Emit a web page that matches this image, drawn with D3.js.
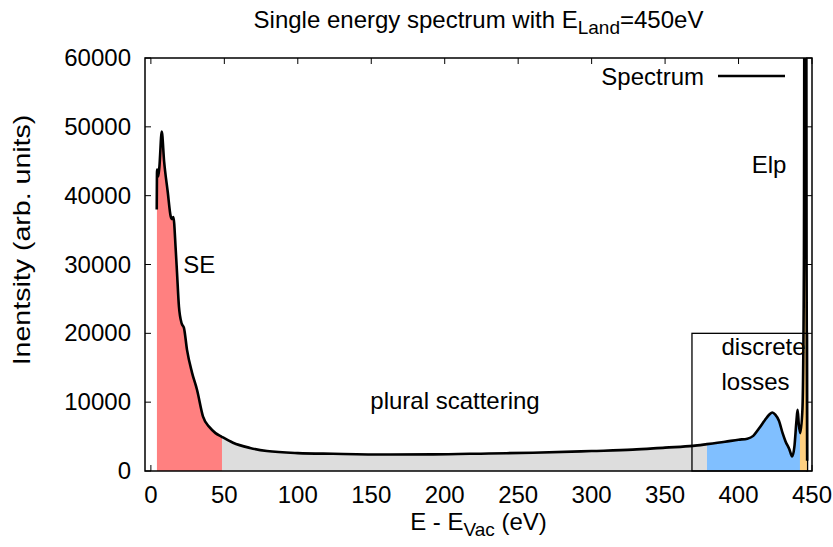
<!DOCTYPE html>
<html>
  <head>
    <meta charset="utf-8">
    <title>single energy spectrum</title>
    <script type="text/javascript" src="https://d3js.org/d3.v7.min.js"></script>
    <style type="text/css">
      body { margin: 0; background: #fff; }
      text { font-family: "Liberation Sans", Arial, Helvetica, sans-serif; fill: #000; }
    </style>
  </head>
  <body>
    <script type="text/javascript">
	// spectrum (eV, counts)
	var energy = [4.0, 4.2, 5.0, 5.8, 7.4, 9.0, 11.5, 13.5, 14.5, 15.3, 16.9, 17.8, 19.1, 21.0, 22.5,
		24.6, 28.0, 31.4, 35.5, 40.2, 44.0, 48.0, 55.9, 67.5, 79, 100, 124, 160, 192, 230, 260,
		300, 328, 350, 369, 378.5, 390.8, 400, 406, 410, 414, 418, 421, 423, 425, 427.5, 430,
		432, 434.5, 436.5, 438, 439.5, 440.2, 441, 442, 443.5, 444.5, 445.5, 446.3, 446.7];
	var intensity = [38000, 43800, 42800, 44200, 49300, 45000, 40500, 37000, 36600, 36900, 32200,
		28800, 23900, 21400, 20800, 17600, 14300, 11800, 7900, 6300, 5500, 5000, 4100, 3350, 2900,
		2600, 2500, 2400, 2420, 2550, 2650, 2900, 3100, 3400, 3650, 3900, 4250, 4550, 4700, 5100,
		6200, 7400, 8200, 8500, 8200, 7300, 5500, 4300, 3200, 2100, 3500, 7500, 8900, 6800, 5500,
		9000, 30000, 200000, 30000, 1500];

	var xTicks = [0, 50, 100, 150, 200, 250, 300, 350, 400, 450];
	var yTicks = [0, 10000, 20000, 30000, 40000, 50000, 60000];

	// shaded parts under the curve
	var regionStart = [4.0, 48.4, 378.5, 441.8];
	var regionEnd = [48.4, 378.5, 441.8, 446.7];
	var regionColor = ["#ff8080", "#dddddd", "#80bfff", "#ffd080"];

	// outlined box round the discrete losses
	var boxX = [368.3, 447];
	var boxY = [0, 20000];

	var labels = ["SE", "plural scattering", "discrete", "losses", "Elp"];
	var labelX = [22, 207, 388.4, 388.4, 409];
	var labelY = [28800, 9000, 16850, 11770, 43300];
	var labelAnchor = ["start", "middle", "start", "start", "start"];

	var w = 833, h = 547;
	var pL = 145, pR = 812, pT = 58, pB = 471;

	var x = d3.scaleLinear().domain([-4, 450]).range([pL, pR]);
	var y = d3.scaleLinear().domain([0, 60000]).range([pB, pT]);

	var pts = energy.map(function(e, i) { return [e, intensity[i]]; });

	var svg = d3.select("body")
		.append("svg")
		.attr("width", w)
		.attr("height", h);

	var defs = svg.append("defs");
	defs.append("clipPath").attr("id", "plotclip")
		.append("rect")
		.attr("x", pL).attr("y", pT)
		.attr("width", pR - pL).attr("height", pB - pT);
	regionStart.forEach(function(s, i) {
		defs.append("clipPath").attr("id", "reg" + i)
			.append("rect")
			.attr("x", x(s)).attr("y", pT)
			.attr("width", x(regionEnd[i]) - x(s))
			.attr("height", pB - pT);
	});

	// ticks (inward, mirrored) go under the fills
	var tl = 6;
	var ticks = svg.append("g").attr("stroke", "#000").attr("stroke-width", 1);
	ticks.selectAll("line.xb").data(xTicks).enter().append("line")
		.attr("x1", function(d) { return x(d); }).attr("x2", function(d) { return x(d); })
		.attr("y1", pB).attr("y2", pB - tl);
	ticks.selectAll("line.xt").data(xTicks).enter().append("line")
		.attr("x1", function(d) { return x(d); }).attr("x2", function(d) { return x(d); })
		.attr("y1", pT).attr("y2", pT + tl);
	ticks.selectAll("line.yl").data(yTicks).enter().append("line")
		.attr("x1", pL).attr("x2", pL + tl)
		.attr("y1", function(d) { return y(d); }).attr("y2", function(d) { return y(d); });
	ticks.selectAll("line.yr").data(yTicks).enter().append("line")
		.attr("x1", pR).attr("x2", pR - tl)
		.attr("y1", function(d) { return y(d); }).attr("y2", function(d) { return y(d); });

	var curve = d3.curveMonotoneX;
	var area = d3.area()
		.x(function(d) { return x(d[0]); })
		.y0(y(0))
		.y1(function(d) { return y(d[1]); })
		.curve(curve);
	var line = d3.line()
		.x(function(d) { return x(d[0]); })
		.y(function(d) { return y(d[1]); })
		.curve(curve);

	regionColor.forEach(function(c, i) {
		svg.append("path")
			.datum(pts)
			.attr("clip-path", "url(#reg" + i + ")")
			.attr("fill", c)
			.attr("d", area);
	});

	svg.append("path")
		.datum(pts)
		.attr("clip-path", "url(#plotclip)")
		.attr("fill", "none")
		.attr("stroke", "#000")
		.attr("stroke-width", 2.6)
		.attr("stroke-linejoin", "round")
		.attr("d", line);

	svg.append("rect")
		.attr("x", x(boxX[0])).attr("y", y(boxY[1]))
		.attr("width", x(boxX[1]) - x(boxX[0]))
		.attr("height", y(boxY[0]) - y(boxY[1]))
		.attr("fill", "none")
		.attr("stroke", "#000")
		.attr("stroke-width", 1.3);

	// border
	svg.append("rect")
		.attr("x", pL).attr("y", pT)
		.attr("width", pR - pL).attr("height", pB - pT)
		.attr("fill", "none")
		.attr("stroke", "#000")
		.attr("stroke-width", 1.5);

	var fs = 24;
	svg.selectAll("text.xt").data(xTicks).enter().append("text")
		.attr("x", function(d) { return x(d); })
		.attr("y", 503)
		.attr("text-anchor", "middle")
		.style("font-size", fs + "px")
		.text(function(d) { return d; });
	svg.selectAll("text.yt").data(yTicks).enter().append("text")
		.attr("x", 131)
		.attr("y", function(d) { return y(d) + 8; })
		.attr("text-anchor", "end")
		.style("font-size", fs + "px")
		.text(function(d) { return d; });

	labels.forEach(function(s, i) {
		svg.append("text")
			.attr("x", x(labelX[i]))
			.attr("y", y(labelY[i]))
			.attr("text-anchor", labelAnchor[i])
			.style("font-size", fs + "px")
			.text(s);
	});

	// legend
	svg.append("text")
		.attr("x", 704).attr("y", 85)
		.attr("text-anchor", "end")
		.style("font-size", fs + "px")
		.text("Spectrum");
	svg.append("line")
		.attr("x1", 718).attr("x2", 785)
		.attr("y1", 76).attr("y2", 76)
		.attr("stroke", "#000")
		.attr("stroke-width", 2.6);

	// title
	var title = svg.append("text")
		.attr("x", (pL + pR) / 2).attr("y", 28)
		.attr("text-anchor", "middle")
		.style("font-size", fs + "px");
	title.append("tspan").text("Single energy spectrum with E");
	title.append("tspan").attr("dy", 6).style("font-size", "19px").text("Land");
	title.append("tspan").attr("dy", -6).text("=450eV");

	// axis labels
	var xl = svg.append("text")
		.attr("x", (pL + pR) / 2).attr("y", 530)
		.attr("text-anchor", "middle")
		.style("font-size", fs + "px");
	xl.append("tspan").text("E - E");
	xl.append("tspan").attr("dy", 6).style("font-size", "19px").text("Vac");
	xl.append("tspan").attr("dy", -6).text(" (eV)");

	// y label is drawn a bit stretched along its length, as in the original
	svg.append("text")
		.attr("transform", "translate(30,240) rotate(-90) scale(1.19,1)")
		.attr("text-anchor", "middle")
		.style("font-size", fs + "px")
		.text("Inentsity (arb. units)");
    </script>
  </body>
</html>
